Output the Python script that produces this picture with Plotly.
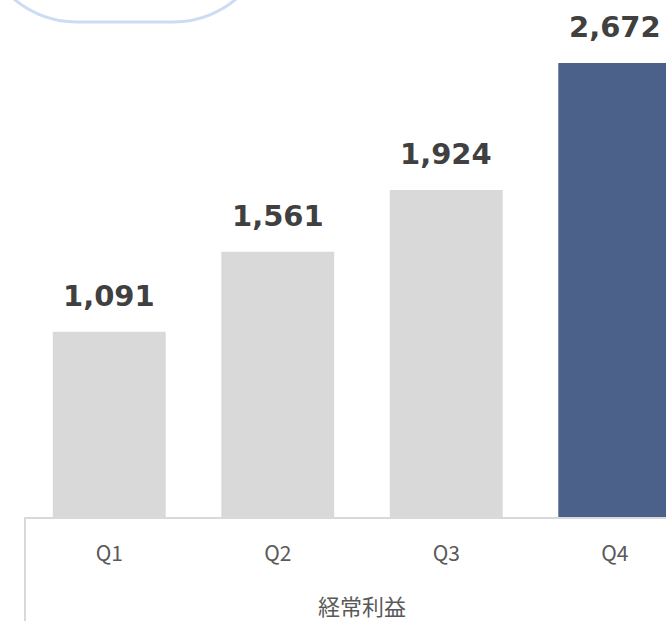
import plotly.graph_objects as go

categories = ["Q1", "Q2", "Q3", "Q4"]
values = [1091, 1561, 1924, 2672]
group_label = "経常利益"
bar_colors = ["#d9d9d9", "#d9d9d9", "#d9d9d9", "#4b6189"]

W, H = 666, 621
ML, MR, MT, MB = 25, 0, 0, 104
plot_w = W - ML - MR
plot_h = H - MT - MB
cat_px = 168.5
px_per_unit = 454 / 2672

fig = go.Figure()
fig.add_trace(go.Bar(
    x=categories, y=values, marker_color=bar_colors, marker_line_width=0,
    hoverinfo="skip",
))

for c, v in zip(categories, values):
    fig.add_annotation(
        x=c, y=v, xref="x", yref="y", text=f"<b>{v:,}</b>", showarrow=False,
        yanchor="middle", yshift=36,
        font=dict(family="DejaVu Sans", size=29, color="#404040"),
    )

fig.add_annotation(
    x=(len(categories) - 1) / 2, y=0, xref="x", yref="paper", text=group_label,
    showarrow=False, yanchor="middle", yshift=-88,
    font=dict(family="Noto Sans CJK JP", size=22, color="#595959"),
)

# left divider line
fig.add_shape(type="line", xref="paper", yref="paper", x0=0, x1=0, y0=0,
              y1=-MB / plot_h, line=dict(color="#d9d9d9", width=2))

# rounded frame at top-left (partially off-screen)
fig.add_shape(
    type="path", xref="paper", yref="paper", xsizemode="pixel", ysizemode="pixel",
    xanchor=0, yanchor=1,
    path="M -46 200 L -46 76 C -46 21.9 -2.1 -22 52 -22 L 148 -22 C 202.1 -22 246 21.9 246 76 L 246 200",
    line=dict(color="#cddcf5", width=3), fillcolor="rgba(0,0,0,0)",
)

fig.update_layout(
    width=W, height=H, margin=dict(l=ML, r=MR, t=MT, b=MB, pad=0),
    paper_bgcolor="white", plot_bgcolor="white", showlegend=False,
    bargap=0.33,
    xaxis=dict(
        range=[-0.5, -0.5 + plot_w / cat_px], showgrid=False, zeroline=False,
        showline=True, linecolor="#d9d9d9", linewidth=2,
        ticks="", ticklabelstandoff=17,
        tickfont=dict(family="Noto Sans CJK JP", size=21, color="#595959"),
    ),
    yaxis=dict(range=[0, plot_h / px_per_unit], visible=False, showgrid=False),
)

fig.write_html(
    "out.html",
    config={"displayModeBar": False, "staticPlot": True},
    post_script="document.body.style.margin='0';document.body.style.overflow='hidden';",
)
